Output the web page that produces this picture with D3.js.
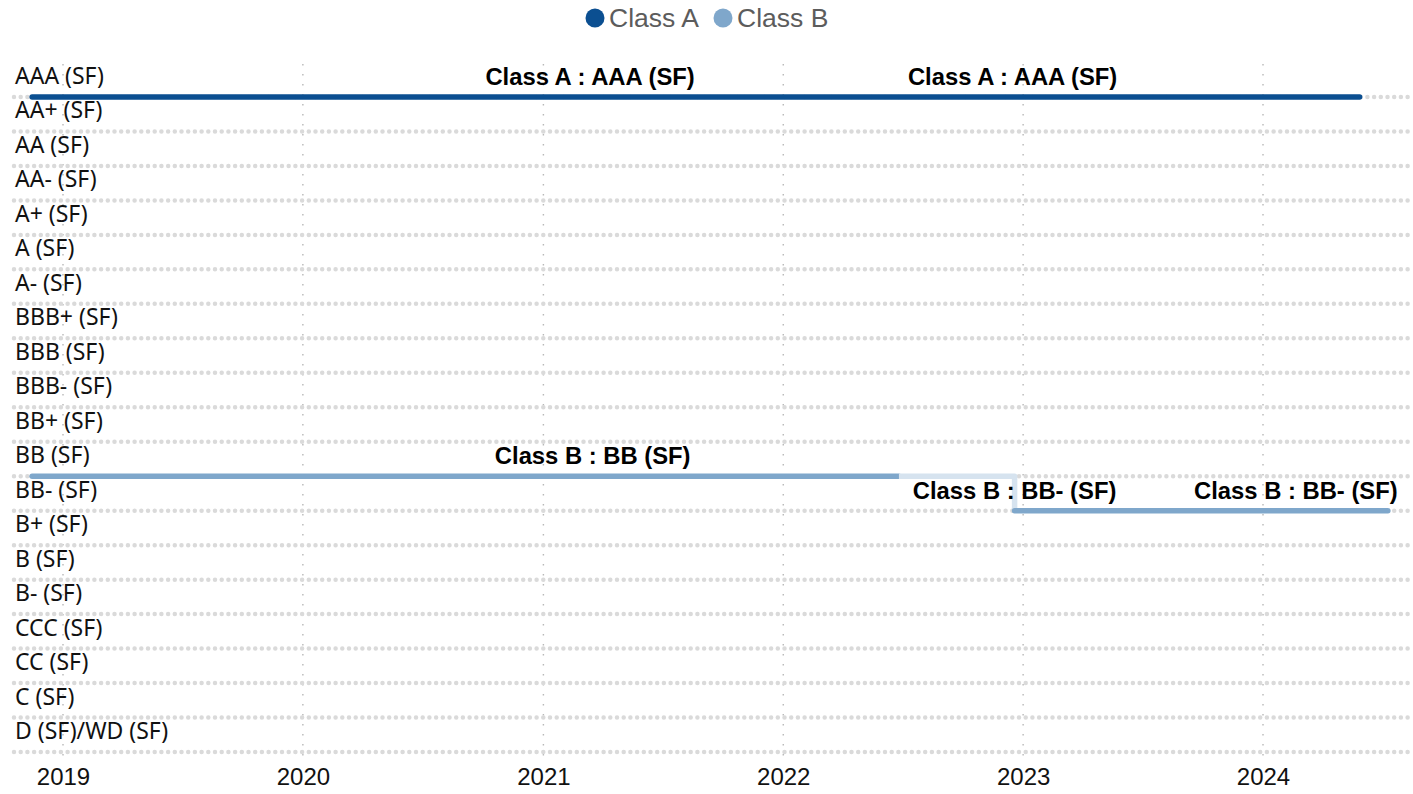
<!DOCTYPE html>
<html>
  <head>
    <style>
      body { margin: 0; background: #fff; }
      svg { display: block; }
    </style>
  </head>
  <body>
    <svg></svg>
    <script src="https://d3js.org/d3.v7.min.js"></script>
    <script type="text/javascript">

      // rating scale, top to bottom
      var ratings = ["AAA (SF)", "AA+ (SF)", "AA (SF)", "AA- (SF)", "A+ (SF)", "A (SF)", "A- (SF)",
        "BBB+ (SF)", "BBB (SF)", "BBB- (SF)", "BB+ (SF)", "BB (SF)", "BB- (SF)", "B+ (SF)", "B (SF)",
        "B- (SF)", "CCC (SF)", "CC (SF)", "C (SF)", "D (SF)/WD (SF)"]

      var years = [2019, 2020, 2021, 2022, 2023, 2024]

      // Class A
      var classADates = ["2018-11-15", "2021-03-13", "2022-12-16", "2024-05-27"]
      var classARatings = ["AAA (SF)", "AAA (SF)", "AAA (SF)", "AAA (SF)"]
      var classALabelled = [false, true, true, false]

      // Class B
      var classBDates = ["2018-11-15", "2021-03-17", "2022-12-19", "2024-02-20", "2024-07-09"]
      var classBRatings = ["BB (SF)", "BB (SF)", "BB- (SF)", "BB- (SF)", "BB- (SF)"]
      var classBLabelled = [false, true, true, true, false]
      var classBFadeFrom = "2022-06-26"

      var seriesNames = ["Class A", "Class B"]
      var seriesColors = ["#0b4f91", "#7fa7cb"]
      var fadeColor = "#d6e3ef"

      var svgWidth = 1413, svgHeight = 794
      var parse = d3.timeParse("%Y-%m-%d")

      var svg = d3.select("svg")
        .attr("width", svgWidth)
        .attr("height", svgHeight)

      var x = d3.scaleTime()
        .domain([new Date(2019, 0, 1), new Date(2024, 0, 1)])
        .range([63, 1263])

      var y = d3.scalePoint()
        .domain(ratings)
        .range([97, 752])

      function toPoints(dates, vals, lab) {
        return dates.map((d, i) => ({ date: parse(d), rating: vals[i], label: lab[i] }))
      }
      var ptsA = toPoints(classADates, classARatings, classALabelled)
      var ptsB = toPoints(classBDates, classBRatings, classBLabelled)

      // vertical grid
      svg.append("g")
        .selectAll("line")
        .data(years)
        .join("line")
        .attr("x1", d => x(new Date(d, 0, 1)))
        .attr("x2", d => x(new Date(d, 0, 1)))
        .attr("y1", 64)
        .attr("y2", 756)
        .attr("stroke", "#b8b8b8")
        .attr("stroke-width", 1.4)
        .attr("stroke-dasharray", "1.5 8.5")

      // horizontal grid (dotted)
      svg.append("g")
        .selectAll("line")
        .data(ratings)
        .join("line")
        .attr("x1", 14)
        .attr("x2", svgWidth)
        .attr("y1", d => y(d))
        .attr("y2", d => y(d))
        .attr("stroke", "#dadada")
        .attr("stroke-width", 4.5)
        .attr("stroke-linecap", "round")
        .attr("stroke-dasharray", "0 6.7")

      // y labels
      svg.append("g")
        .selectAll("text")
        .data(ratings)
        .join("text")
        .attr("x", 15)
        .attr("y", d => y(d) - 13)
        .attr("font-family", "Noto Sans")
        .attr("font-size", 23)
        .attr("fill", "#111")
        .text(d => d)

      // x axis labels
      var xAxis = svg.append("g")
        .attr("transform", "translate(0,785)")
        .call(d3.axisBottom(x).tickValues(years.map(d => new Date(d, 0, 1))).tickFormat(d3.timeFormat("%Y")).tickSize(0))
      xAxis.select(".domain").remove()
      xAxis.selectAll("text")
        .attr("dy", 0)
        .attr("y", 0)
        .attr("font-family", "Liberation Sans")
        .attr("font-size", 24)
        .attr("fill", "#111")

      var line = d3.line()
        .x(d => x(d.date))
        .y(d => y(d.rating))
        .curve(d3.curveStepAfter)

      // Class A
      svg.append("path")
        .attr("d", line(ptsA))
        .attr("fill", "none")
        .attr("stroke", seriesColors[0])
        .attr("stroke-width", 5.5)
        .attr("stroke-linecap", "round")
        .attr("stroke-linejoin", "round")

      // Class B, split around the faded zone
      var fadeStart = parse(classBFadeFrom)
      var stepIdx = ptsB.findIndex(d => d.date > fadeStart)
      var before = ptsB.slice(0, stepIdx).concat([{ date: fadeStart, rating: ptsB[stepIdx - 1].rating }])
      var faded = [before[before.length - 1], ptsB[stepIdx]]
      var after = ptsB.slice(stepIdx)

      ;[[before, seriesColors[1]], [faded, fadeColor], [after, seriesColors[1]]].forEach(seg => {
        svg.append("path")
          .attr("d", line(seg[0]))
          .attr("fill", "none")
          .attr("stroke", seg[1])
          .attr("stroke-width", 5.5)
          .attr("stroke-linecap", seg[1] == fadeColor ? "butt" : "round")
          .attr("stroke-linejoin", "round")
      })

      // data labels
      var labels = ptsA.filter(d => d.label).map(d => Object.assign({ name: seriesNames[0] }, d))
        .concat(ptsB.filter(d => d.label).map(d => Object.assign({ name: seriesNames[1] }, d)))

      svg.append("g")
        .selectAll("text")
        .data(labels)
        .join("text")
        .attr("x", d => x(d.date))
        .attr("y", d => y(d.rating) - 12)
        .attr("text-anchor", "middle")
        .attr("font-family", "Liberation Sans")
        .attr("font-weight", "bold")
        .attr("font-size", 23.8)
        .attr("fill", "#000")
        .text(d => d.name + " : " + d.rating)

      // legend
      var legend = svg.append("g")
        .attr("transform", "translate(595,18)")
      var lx = [0, 128]
      seriesNames.forEach((s, i) => {
        legend.append("circle")
          .attr("cx", lx[i])
          .attr("cy", 0)
          .attr("r", 9.5)
          .attr("fill", seriesColors[i])
        legend.append("text")
          .attr("x", lx[i] + 14)
          .attr("y", 9)
          .attr("font-family", "Liberation Sans")
          .attr("font-size", 26.5)
          .attr("fill", "#5c5c5c")
          .text(s)
      })

    </script>
  </body>
</html>
